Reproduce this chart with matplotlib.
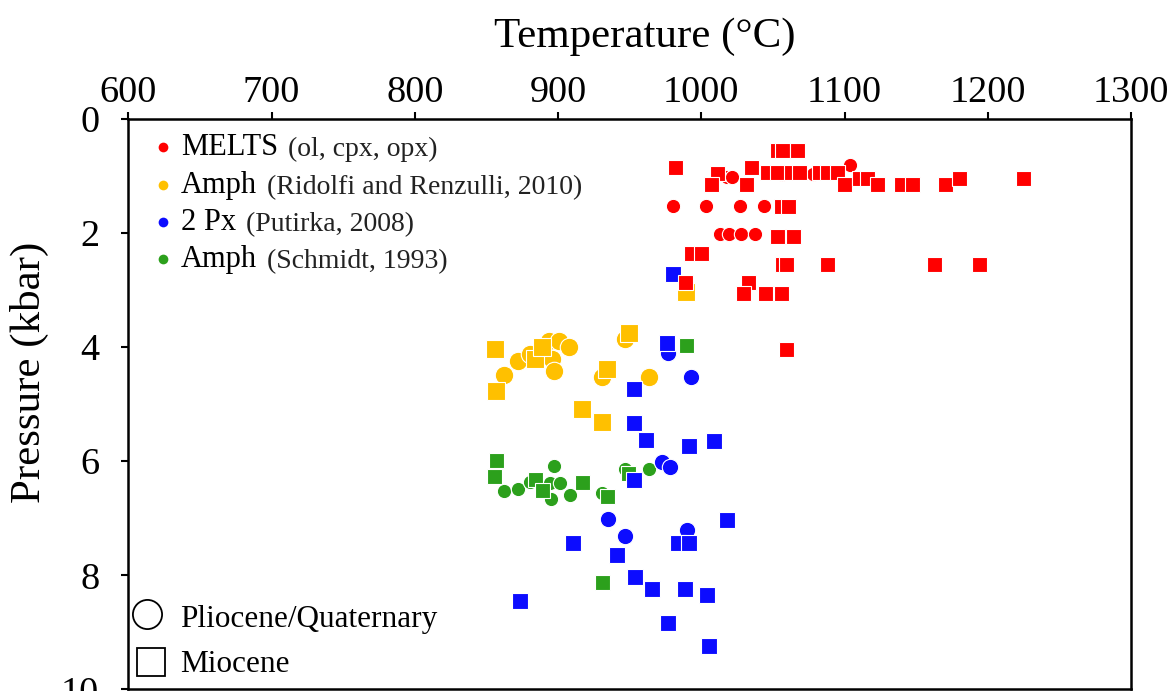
import matplotlib.pyplot as plt

# Crystallisation temperature (°C) and pressure (kbar) from each thermobarometer.
# "circ" = Pliocene/Quaternary samples, "sq" = Miocene samples.
melts_circ_t = [1018, 1021.5, 1056, 1078, 1104, 980, 1003, 1027, 1044, 1013, 1019, 1028, 1037.5]
melts_circ_p = [1.02, 1.02, 0.98, 0.98, 0.81, 1.53, 1.53, 1.53, 1.53, 2.02, 2.02, 2.02, 2.02]
melts_sq_t = [981.6, 1053, 1056.5, 1067, 1011, 1034.7, 1031.4, 1006.8, 1046, 1053, 1062.7,
              1068.2, 1082.2, 1087.8, 1094.5, 1099.7, 1110.2, 1115.5, 1122.8, 1139.6, 1147.3,
              1170.4, 1180, 1224.7, 1055.6, 1060.5, 1053, 1064, 992.8, 999.8, 1056, 1059,
              1087.8, 1162.8, 1194.2, 988.6, 1032.6, 1029, 1044.5, 1055.6, 1059.2]
melts_sq_p = [0.85, 0.55, 0.55, 0.55, 0.95, 0.85, 1.14, 1.14, 0.93, 0.93, 0.93,
              0.93, 0.93, 0.93, 0.93, 1.14, 1.04, 1.04, 1.14, 1.14, 1.14,
              1.14, 1.04, 1.04, 1.53, 1.53, 2.05, 2.05, 2.35, 2.35, 2.54, 2.54,
              2.54, 2.54, 2.54, 2.86, 2.86, 3.05, 3.05, 3.05, 4.03]

ridolfi_circ_t = [862.2, 872, 880.4, 893.6, 900.6, 907.6, 895.7, 897.1, 946.7, 930.7, 963.5]
ridolfi_circ_p = [4.50, 4.24, 4.13, 3.90, 3.90, 4.01, 4.22, 4.43, 3.87, 4.52, 4.52]
ridolfi_sq_t = [855.9, 856.6, 883.8, 888.7, 949.5, 934.1, 916.7, 930.7, 989.3]
ridolfi_sq_p = [4.04, 4.78, 4.22, 4.01, 3.75, 4.39, 5.09, 5.32, 3.03]

putirka_circ_t = [976.8, 992.9, 972.6, 978.1, 934.9, 946.7, 990]
putirka_circ_p = [4.11, 4.52, 6.01, 6.10, 7.01, 7.31, 7.20]
putirka_sq_t = [980.2, 976, 953, 953, 961.4, 991.4, 1009, 953, 910.4, 941.1, 983.7, 991.4,
                1018, 953.7, 965.6, 988.6, 1004, 873.4, 976.8, 1005.4]
putirka_sq_p = [2.73, 3.94, 4.74, 5.33, 5.63, 5.74, 5.64, 6.33, 7.43, 7.64, 7.43, 7.43,
                7.03, 8.03, 8.24, 8.24, 8.34, 8.45, 8.83, 9.23]

schmidt_circ_t = [862.2, 872, 880.4, 894.3, 897.1, 901.3, 895, 908.3, 930.7, 946.7, 963.5]
schmidt_circ_p = [6.52, 6.49, 6.37, 6.38, 6.09, 6.38, 6.66, 6.59, 6.56, 6.14, 6.14]
schmidt_sq_t = [856.6, 855.2, 883.8, 888.7, 916.7, 934.1, 948.8, 989.3, 930.7]
schmidt_sq_p = [5.98, 6.26, 6.31, 6.51, 6.37, 6.61, 6.21, 3.96, 8.11]

legend_names = ['MELTS', 'Amph', '2 Px', 'Amph']
legend_notes = ['(ol, cpx, opx)', '(Ridolfi and Renzulli, 2010)', '(Putirka, 2008)', '(Schmidt, 1993)']
age_names = ['Pliocene/Quaternary', 'Miocene']

red = '#ff0000'
gold = '#ffc000'
blue = '#0c0cff'
green = '#2ca01c'
legend_colors = [red, gold, blue, green]

plt.rcParams['font.family'] = 'Liberation Serif'

fig = plt.figure(figsize=(11.71, 6.91), dpi=100)
ax = fig.add_axes([0.1097, 0.0022, 0.8561, 0.8263])

# (circle T, circle P, square T, square P, colour, circle size, square size)
series = [
    (schmidt_circ_t, schmidt_circ_p, schmidt_sq_t, schmidt_sq_p, green, 10.3, 10.8),
    (ridolfi_circ_t, ridolfi_circ_p, ridolfi_sq_t, ridolfi_sq_p, gold, 13.3, 13.5),
    (putirka_circ_t, putirka_circ_p, putirka_sq_t, putirka_sq_p, blue, 11.8, 12.0),
    (melts_circ_t, melts_circ_p, melts_sq_t, melts_sq_p, red, 10.3, 10.8),
]
for ct, cp, st, sp, col, cs, ss in series:
    ax.plot(ct, cp, 'o', ms=cs, color=col, mec='white', mew=0.8, ls='none')
    ax.plot(st, sp, 's', ms=ss, color=col, mec='white', mew=0.8, ls='none')

ax.set_xlim(600, 1300)
ax.set_ylim(10, 0)
ax.set_xticks(range(600, 1301, 100))
ax.set_yticks(range(0, 11, 2))
ax.xaxis.tick_top()
ax.xaxis.set_label_position('top')
ax.tick_params(axis='x', direction='out', length=5, width=1.5, labelsize=27.5, pad=1)
ax.tick_params(axis='y', direction='out', length=5, width=1.5, labelsize=27.5, pad=16)
for sp in ax.spines.values():
    sp.set_linewidth(1.8)

ax.set_xlabel('Temperature (°C)', fontsize=31, va='center')
ax.xaxis.set_label_coords(0.515, 1.143)
ax.set_ylabel('Pressure (kbar)', fontsize=31, va='center')
ax.yaxis.set_label_coords(-0.099, 0.556)

# method legend: coloured dot, name, then smaller citation
dot_y = [0.950, 0.8835, 0.8187, 0.754]
for name, note, col, y in zip(legend_names, legend_notes, legend_colors, dot_y):
    ax.plot(0.0344, y, 'o', ms=7, color=col, mec='none', transform=ax.transAxes, clip_on=False)
    t = ax.text(0.0524, y - 0.014, name, fontsize=22, va='baseline', transform=ax.transAxes)
    ax.annotate(note, xy=(1, 0), xycoords=t, xytext=(7, 0), textcoords='offset points',
                fontsize=20, va='bottom', color='#222222')

# age legend: open symbols
ax.plot(0.0185, 0.1322, 'o', ms=21, mfc='white', mec='black', mew=1.3,
        transform=ax.transAxes, clip_on=False)
ax.plot(0.0224, 0.0473, 's', ms=20.5, mfc='white', mec='black', mew=1.3,
        transform=ax.transAxes, clip_on=False)
ax.text(0.0514, 0.1095, age_names[0], fontsize=22.5, va='baseline', transform=ax.transAxes)
ax.text(0.0514, 0.0306, age_names[1], fontsize=22.5, va='baseline', transform=ax.transAxes)

fig.savefig('out.png', dpi=100)
